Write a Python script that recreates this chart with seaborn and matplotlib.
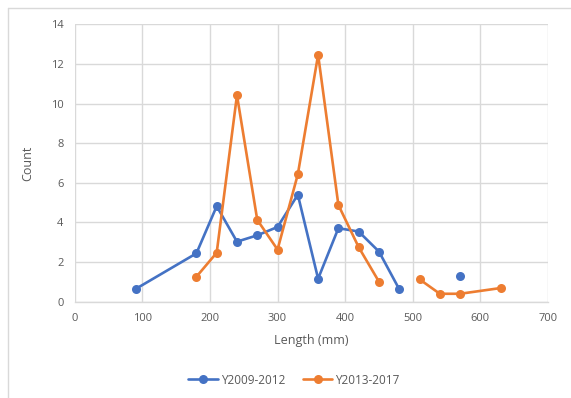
import numpy as np
import pandas as pd
import seaborn as sns
import matplotlib
matplotlib.use("Agg")
import matplotlib.pyplot as plt
from matplotlib.lines import Line2D

# Length bins (mm) and mean counts for each period; NaN marks a missing bin
length_a = [90, 180, 210, 240, 270, 300, 330, 360, 390, 420, 450, 480, 510, 540, 570, 600]
count_a = [0.64, 2.44, 4.82, 3.03, 3.35, 3.77, 5.40, 1.16, 3.71, 3.54, 2.53, 0.63,
           np.nan, np.nan, 1.31, np.nan]

length_b = [180, 210, 240, 270, 300, 330, 360, 390, 420, 450, 480, 510, 540, 570, 630]
count_b = [1.26, 2.47, 10.42, 4.13, 2.63, 6.43, 12.46, 4.88, 2.75, 1.01, np.nan,
           1.13, 0.40, 0.40, 0.69]

series_names = ["Y2009-2012", "Y2013-2017"]
colors = ["#4472C4", "#ED7D31"]

x_ticks = [0, 100, 200, 300, 400, 500, 600, 700]
y_ticks = [0, 2, 4, 6, 8, 10, 12, 14]


def to_frame(x, y, name):
    df = pd.DataFrame({"length": x, "count": y, "series": name})
    # split into contiguous runs so missing bins leave a gap in the line
    df["segment"] = df["count"].isna().cumsum()
    return df.dropna(subset=["count"])


data = pd.concat([to_frame(length_a, count_a, series_names[0]),
                  to_frame(length_b, count_b, series_names[1])], ignore_index=True)

sns.set_theme(style="white")
plt.rcParams["font.family"] = ["Open Sans", "DejaVu Sans"]

W, H = 571, 398
fig = plt.figure(figsize=(W / 100, H / 100), dpi=100)
ax = fig.add_axes([74.7 / W, 1 - 301.7 / H, (548 - 74.7) / W, (301.7 - 24.3) / H])

sns.lineplot(data=data, x="length", y="count", hue="series", units="segment",
             estimator=None, palette=dict(zip(series_names, colors)),
             marker="o", markersize=6.5, markeredgewidth=0, linewidth=1.9,
             legend=False, ax=ax, zorder=3)

ax.set_xlim(0, 700)
ax.set_ylim(0, 14)
ax.set_xticks(x_ticks)
ax.set_yticks(y_ticks)
ax.grid(True, color="#D9D9D9", linewidth=1.0)
ax.set_axisbelow(True)
for side in ["top", "right", "left"]:
    ax.spines[side].set_visible(False)
ax.spines["bottom"].set_color("#D9D9D9")
ax.spines["bottom"].set_linewidth(1.0)
ax.tick_params(axis="both", length=0, labelsize=8, labelcolor="#595959", pad=8)

ax.set_xlabel("Length (mm)", fontsize=9, color="#595959", labelpad=7)
ax.set_ylabel("Count", fontsize=9, color="#595959", labelpad=12)

handles = [Line2D([0], [0], color=c, marker="o", markersize=6.5, linewidth=1.9,
                  markeredgewidth=0) for c in colors]
fig.legend(handles, series_names, loc="center", bbox_to_anchor=(0.515, 1 - 380 / H),
           ncol=2, frameon=False, fontsize=8.5, labelcolor="#595959",
           handlelength=2.5, handletextpad=0.25, columnspacing=1.5)

# chart frame (top and left edges)
frame_c = "#D9D9D9"
fig.add_artist(Line2D([7.5 / W, 1.0], [1 - 8 / H, 1 - 8 / H], color=frame_c,
                      linewidth=1.0, transform=fig.transFigure))
fig.add_artist(Line2D([7.5 / W, 7.5 / W], [1 - 8 / H, 0.0], color=frame_c,
                      linewidth=1.0, transform=fig.transFigure))

fig.savefig("out.png", dpi=100, facecolor="white")
